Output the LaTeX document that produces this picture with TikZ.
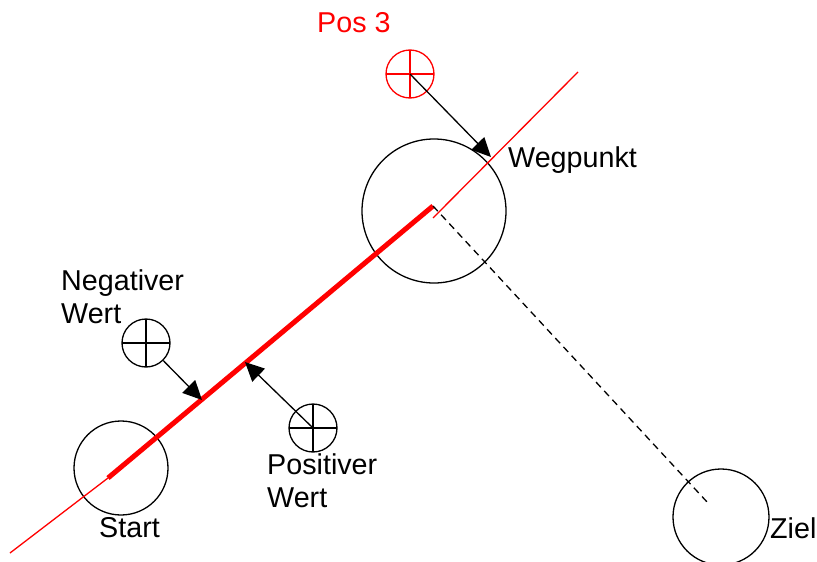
\documentclass[tikz,border=0pt]{standalone}
\usepackage{fontspec}
\setmainfont{Liberation Sans}
\usetikzlibrary{arrows.meta}
\tikzstyle{kreis} = [circle, draw=black, line width=1.3pt, inner sep=0pt]
\tikzstyle{ziel} = [circle, draw=black, line width=1.3pt, inner sep=0pt, minimum size=48pt,
    path picture={\draw[line width=1.3pt] (path picture bounding box.north) -- (path picture bounding box.south)
    (path picture bounding box.west) -- (path picture bounding box.east);}]
\tikzstyle{beschriftung} = [anchor=base west, inner sep=0pt, font=\fontsize{28.7}{33}\selectfont, align=left]
\tikzstyle{pfeil} = [line width=1.3pt, -{Triangle[length=19pt,width=18pt]}]

\begin{document}
\begin{tikzpicture}[x=1pt, y=-1pt]
        \useasboundingbox (0,0) rectangle (817,562);

        \node (start) [kreis, minimum size=94pt]  at (121,468) {};
        \node (weg)   [kreis, minimum size=144pt] at (434,211) {};
        \node (zielk) [kreis, minimum size=96pt]  at (721,517) {};

        \node (pos3) [ziel, draw=red, path picture={\draw[red, line width=1.3pt] (path picture bounding box.north) -- (path picture bounding box.south)
            (path picture bounding box.west) -- (path picture bounding box.east);}] at (410,74) {};
        \node (neg) [ziel] at (146,343) {};
        \node (pos) [ziel] at (313,428) {};

        \coordinate (a0) at (10,553);
        \coordinate (a1) at (108,478);
        \coordinate (a2) at (433,206);
        \coordinate (b1) at (433,218);
        \coordinate (b2) at (578,72);
        \coordinate (z)  at (708,503);
        \coordinate (p3) at (491,157);
        \coordinate (n1) at (202,400);
        \coordinate (p1) at (245,362);

        \draw[red, line width=1.3pt] (a0) -- (a1);
        \draw[red, line width=1.3pt] (b1) -- (b2);
        \draw[red, line width=5pt] (a1) -- (a2);
        \draw[dashed, line width=1.3pt, dash pattern=on 7pt off 5pt] (a2) -- (z);

        \draw[pfeil] (pos3.center) -- (p3);
        \draw[pfeil] (neg) -- (n1);
        \draw[pfeil] (pos.center) -- (p1);

        \node (t1) [beschriftung, text=red] at (317,32) {Pos 3};
        \node (t2) [beschriftung] at (508,167) {Wegpunkt};
        \node (t3) [beschriftung] at (61,323) {Negativer\\Wert};
        \node (t4) [beschriftung] at (267,507) {Positiver\\Wert};
        \node (t5) [beschriftung] at (99,537) {Start};
        \node (t6) [beschriftung] at (770,538) {Ziel};
    \end{tikzpicture}
\end{document}
